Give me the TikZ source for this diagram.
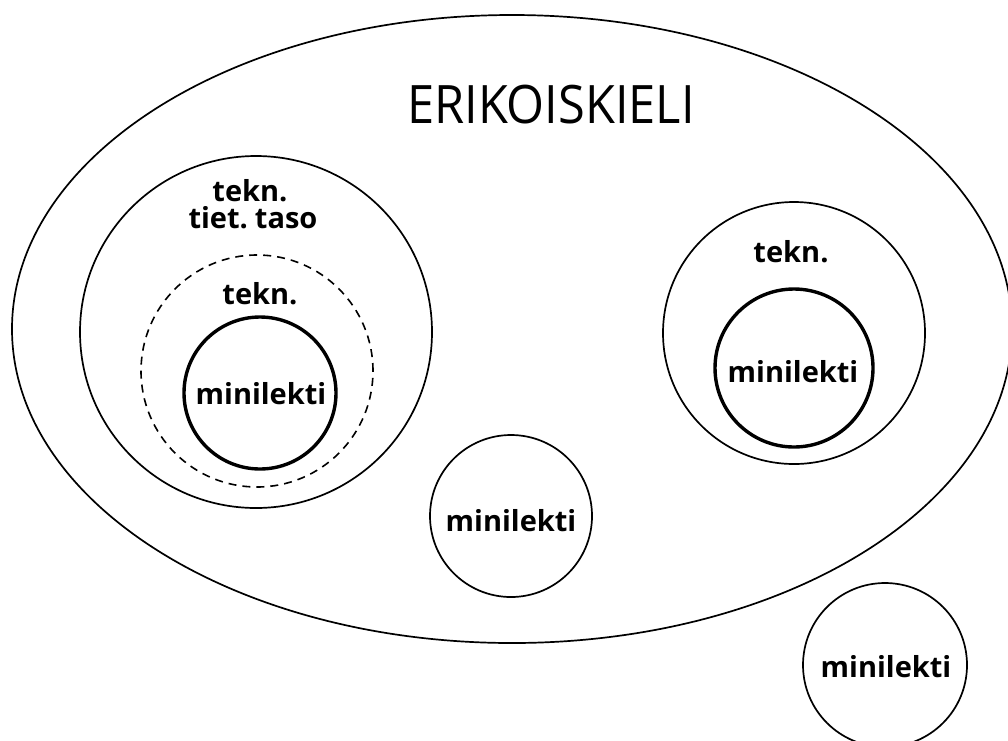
\documentclass[tikz,border=0pt]{standalone}
\usepackage{fontspec}
\setmainfont{Open Sans}
\usetikzlibrary{shapes.geometric}
\begin{document}
\begin{tikzpicture}[x=1pt,y=-1pt,
  thinline/.style={draw=black,line width=1.7pt},
  thickline/.style={draw=black,line width=3.4pt},
  dashline/.style={draw=black,line width=1.6pt,dash pattern=on 8pt off 6pt},
  ring/.style={circle,inner sep=0pt,outer sep=0pt},
  lbl/.style={font=\bfseries\fontsize{29}{30}\selectfont,anchor=base,inner sep=0pt},
  titlelbl/.style={font=\fontsize{53}{54}\selectfont,anchor=base,inner sep=0pt}]
\useasboundingbox (0,0) rectangle (1008,740);
\fill[white] (0,0) rectangle (1008,740);
% big ellipse
\node[thinline,ellipse,minimum width=1000pt,minimum height=628pt,inner sep=0pt] (erik) at (512,329) {};
\node[titlelbl] (erikt) at (551,123) {\scalebox{0.92}[1]{ERIKOISKIELI}};
% left nest
\node[ring,thinline,minimum size=352pt] (lbig) at (256,332) {};
\node[ring,dashline,minimum size=232pt] (ldash) at (257,371) {};
\node[ring,thickline,minimum size=152pt] (lmini) at (260,393) {};
\node[lbl,text depth=0pt] (ltekn) at (250,201) {tekn.};
\node[lbl,text height=20pt] (ltiet) at (253,228) {tiet.\hspace{-3pt} taso};
\node[lbl] (ltekn2) at (260,304) {tekn.};
\node[lbl] (lminit) at (261,404) {minilekti};
% right nest
\node[ring,thinline,minimum size=262pt] (rbig) at (794,333) {};
\node[ring,thickline,minimum size=158pt] (rmini) at (794,368) {};
\node[lbl] (rtekn) at (791,262) {tekn.};
\node[lbl] (rminit) at (793,382) {minilekti};
% middle
\node[ring,thinline,minimum size=162pt] (mmini) at (511,516) {};
\node[lbl] (mminit) at (511,531) {minilekti};
% bottom right
\node[ring,thinline,minimum size=164pt] (bmini) at (885,665) {};
\node[lbl] (bminit) at (886,677) {minilekti};
\end{tikzpicture}
\end{document}
